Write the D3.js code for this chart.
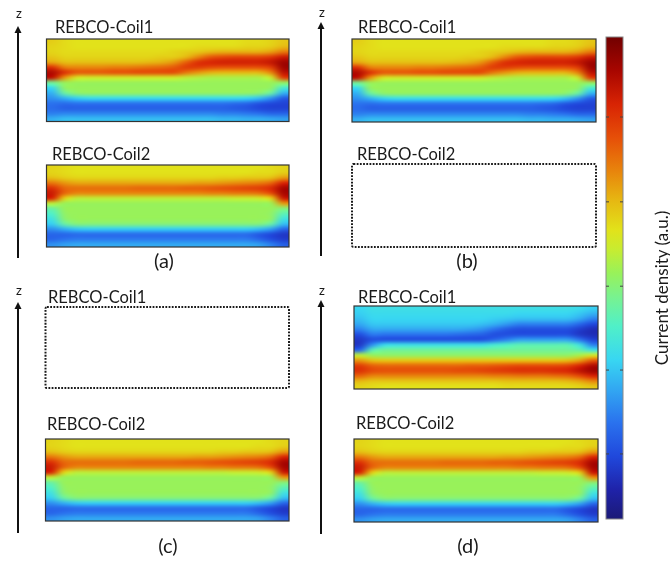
<!DOCTYPE html>
<html>
<head>
<meta charset="utf-8">
<script src="https://cdn.jsdelivr.net/npm/d3@7"></script>
<style>
  html, body { margin: 0; padding: 0; background: #fff; }
  #fig { position: relative; width: 670px; height: 562px; }
  #fig canvas, #fig svg { position: absolute; left: 0; top: 0; }
  text { font-family: Lato, "Open Sans", sans-serif; fill: #1a1a1a; }
</style>
</head>
<body>
<div id="fig"></div>
<script>
// Rainbow colour map (normalised current density 0..1, bottom to top of the bar)
const cmapStops  = [0.00, 0.06, 0.13, 0.20, 0.27, 0.33, 0.40, 0.46, 0.51, 0.56, 0.60, 0.66, 0.72, 0.79, 0.86, 0.93, 1.00];
const cmapColors = ["#1b1a77", "#1f22a8", "#2048dc", "#2a72ee", "#32a8f2", "#38d6f2", "#50f0c8", "#78f290",
                    "#98f25a", "#c8ec30", "#e2e21a", "#e6b812", "#e8860c", "#e65008", "#d82404", "#a80600", "#720000"];
const colorbarTicks = [0.135, 0.309, 0.483, 0.658, 0.834];

const coilNames   = ["REBCO-Coil1", "REBCO-Coil2"];
const panelLabels = ["(a)", "(b)", "(c)", "(d)"];

// Current density in the coil cross-section, rows top -> bottom (z), columns left -> right (r)
const coil1Field = [
  [0.63,0.61,0.60,0.60,0.60,0.60,0.60,0.60,0.60,0.60,0.60,0.60,0.60,0.60,0.60,0.60,0.61,0.61,0.62,0.64],
  [0.62,0.61,0.60,0.60,0.60,0.60,0.60,0.60,0.60,0.60,0.60,0.60,0.61,0.61,0.61,0.61,0.62,0.62,0.63,0.66],
  [0.62,0.61,0.61,0.61,0.61,0.61,0.61,0.61,0.61,0.61,0.62,0.63,0.64,0.66,0.67,0.67,0.67,0.67,0.69,0.74],
  [0.64,0.62,0.62,0.62,0.62,0.62,0.62,0.62,0.62,0.63,0.63,0.66,0.72,0.78,0.80,0.81,0.81,0.81,0.83,0.88],
  [0.68,0.65,0.65,0.65,0.65,0.65,0.65,0.65,0.66,0.67,0.70,0.77,0.84,0.86,0.87,0.87,0.87,0.87,0.89,0.94],
  [0.84,0.73,0.72,0.72,0.72,0.73,0.73,0.74,0.75,0.76,0.78,0.82,0.82,0.80,0.79,0.79,0.79,0.79,0.82,0.94],
  [0.92,0.84,0.78,0.78,0.78,0.79,0.79,0.80,0.80,0.80,0.80,0.74,0.70,0.67,0.66,0.66,0.66,0.66,0.72,0.90],
  [0.90,0.70,0.58,0.57,0.57,0.57,0.57,0.57,0.57,0.57,0.57,0.55,0.54,0.53,0.53,0.53,0.53,0.53,0.56,0.82],
  [0.45,0.51,0.51,0.51,0.51,0.51,0.51,0.51,0.51,0.51,0.51,0.51,0.51,0.51,0.51,0.51,0.51,0.51,0.51,0.50],
  [0.33,0.50,0.51,0.51,0.51,0.51,0.51,0.51,0.51,0.51,0.51,0.51,0.51,0.51,0.51,0.51,0.51,0.51,0.50,0.38],
  [0.28,0.44,0.49,0.50,0.50,0.50,0.50,0.50,0.50,0.50,0.50,0.50,0.50,0.50,0.50,0.50,0.50,0.49,0.44,0.28],
  [0.24,0.28,0.32,0.34,0.34,0.34,0.34,0.34,0.34,0.34,0.34,0.34,0.34,0.34,0.34,0.34,0.33,0.30,0.24,0.16],
  [0.20,0.19,0.20,0.20,0.20,0.20,0.20,0.20,0.20,0.20,0.20,0.20,0.20,0.20,0.20,0.19,0.18,0.15,0.13,0.12],
  [0.19,0.17,0.17,0.17,0.17,0.17,0.17,0.17,0.17,0.17,0.17,0.17,0.17,0.17,0.17,0.16,0.15,0.13,0.12,0.12],
  [0.22,0.23,0.23,0.23,0.23,0.23,0.23,0.23,0.23,0.23,0.23,0.23,0.23,0.23,0.22,0.22,0.21,0.20,0.18,0.18],
  [0.28,0.30,0.30,0.30,0.30,0.30,0.30,0.30,0.30,0.30,0.30,0.30,0.30,0.30,0.29,0.29,0.28,0.28,0.27,0.26]
];

const coil2Field = [
  [0.62,0.61,0.60,0.60,0.60,0.60,0.60,0.60,0.60,0.60,0.60,0.60,0.60,0.60,0.60,0.60,0.60,0.60,0.61,0.62],
  [0.62,0.61,0.60,0.60,0.60,0.60,0.60,0.60,0.60,0.60,0.60,0.60,0.60,0.60,0.60,0.60,0.60,0.61,0.61,0.63],
  [0.65,0.63,0.62,0.62,0.62,0.62,0.62,0.62,0.62,0.62,0.62,0.62,0.62,0.62,0.63,0.63,0.64,0.64,0.65,0.70],
  [0.74,0.70,0.68,0.68,0.68,0.68,0.68,0.68,0.68,0.68,0.68,0.68,0.69,0.69,0.70,0.71,0.72,0.73,0.76,0.86],
  [0.84,0.76,0.75,0.75,0.75,0.75,0.75,0.76,0.76,0.76,0.76,0.77,0.77,0.78,0.79,0.80,0.81,0.82,0.85,0.93],
  [0.88,0.76,0.72,0.72,0.72,0.72,0.72,0.72,0.72,0.72,0.72,0.72,0.72,0.73,0.73,0.74,0.74,0.75,0.80,0.93],
  [0.86,0.62,0.55,0.55,0.55,0.55,0.55,0.55,0.55,0.55,0.55,0.55,0.55,0.55,0.55,0.56,0.56,0.57,0.62,0.88],
  [0.55,0.51,0.51,0.51,0.51,0.51,0.51,0.51,0.51,0.51,0.51,0.51,0.51,0.51,0.51,0.51,0.51,0.51,0.51,0.70],
  [0.44,0.51,0.51,0.51,0.51,0.51,0.51,0.51,0.51,0.51,0.51,0.51,0.51,0.51,0.51,0.51,0.51,0.51,0.51,0.48],
  [0.40,0.50,0.51,0.51,0.51,0.51,0.51,0.51,0.51,0.51,0.51,0.51,0.51,0.51,0.51,0.51,0.51,0.51,0.50,0.42],
  [0.36,0.49,0.51,0.51,0.51,0.51,0.51,0.51,0.51,0.51,0.51,0.51,0.51,0.51,0.51,0.51,0.51,0.51,0.50,0.36],
  [0.32,0.44,0.48,0.48,0.48,0.48,0.48,0.48,0.48,0.48,0.48,0.48,0.48,0.48,0.48,0.48,0.48,0.48,0.44,0.30],
  [0.24,0.28,0.31,0.32,0.32,0.32,0.32,0.32,0.32,0.32,0.32,0.32,0.32,0.32,0.32,0.32,0.32,0.30,0.26,0.18],
  [0.18,0.18,0.19,0.19,0.19,0.19,0.19,0.19,0.19,0.19,0.19,0.19,0.19,0.19,0.19,0.19,0.19,0.16,0.13,0.10],
  [0.18,0.20,0.21,0.21,0.21,0.21,0.21,0.21,0.21,0.21,0.21,0.21,0.21,0.21,0.21,0.21,0.21,0.18,0.14,0.11],
  [0.24,0.26,0.27,0.27,0.27,0.27,0.27,0.27,0.27,0.27,0.27,0.27,0.27,0.27,0.27,0.27,0.27,0.26,0.22,0.17]
];

// Coil 1 when it is driven in the opposite sense
const coil1ReverseField = [
  [0.33,0.35,0.35,0.35,0.35,0.35,0.35,0.35,0.35,0.35,0.35,0.35,0.35,0.35,0.35,0.35,0.35,0.35,0.34,0.32],
  [0.32,0.34,0.34,0.34,0.34,0.34,0.34,0.34,0.34,0.34,0.34,0.34,0.34,0.33,0.33,0.33,0.33,0.33,0.31,0.28],
  [0.30,0.33,0.33,0.33,0.33,0.33,0.33,0.33,0.33,0.33,0.33,0.32,0.31,0.30,0.30,0.30,0.30,0.30,0.27,0.22],
  [0.27,0.31,0.31,0.31,0.31,0.31,0.31,0.31,0.31,0.31,0.30,0.28,0.25,0.22,0.22,0.22,0.22,0.22,0.18,0.13],
  [0.22,0.27,0.27,0.27,0.27,0.27,0.27,0.27,0.27,0.26,0.24,0.20,0.16,0.14,0.14,0.14,0.14,0.14,0.11,0.08],
  [0.14,0.21,0.20,0.20,0.20,0.20,0.20,0.20,0.19,0.18,0.17,0.14,0.14,0.14,0.14,0.14,0.14,0.14,0.10,0.08],
  [0.10,0.14,0.14,0.14,0.14,0.14,0.14,0.14,0.14,0.14,0.14,0.18,0.22,0.26,0.26,0.26,0.26,0.26,0.20,0.12],
  [0.10,0.24,0.34,0.35,0.35,0.35,0.35,0.35,0.35,0.35,0.35,0.38,0.40,0.42,0.42,0.42,0.42,0.42,0.36,0.22],
  [0.18,0.42,0.45,0.45,0.45,0.45,0.45,0.45,0.45,0.45,0.45,0.45,0.45,0.45,0.45,0.45,0.45,0.45,0.43,0.36],
  [0.55,0.51,0.50,0.50,0.50,0.50,0.50,0.50,0.50,0.50,0.50,0.50,0.50,0.50,0.50,0.50,0.50,0.50,0.53,0.58],
  [0.70,0.65,0.64,0.64,0.64,0.64,0.64,0.64,0.64,0.64,0.64,0.64,0.64,0.64,0.64,0.64,0.64,0.65,0.69,0.78],
  [0.82,0.77,0.76,0.76,0.76,0.76,0.76,0.76,0.76,0.77,0.77,0.78,0.79,0.80,0.80,0.80,0.80,0.81,0.86,0.92],
  [0.84,0.80,0.79,0.79,0.79,0.79,0.79,0.79,0.80,0.80,0.81,0.82,0.83,0.84,0.84,0.84,0.85,0.86,0.90,0.94],
  [0.76,0.72,0.72,0.72,0.72,0.72,0.72,0.72,0.72,0.72,0.72,0.73,0.73,0.74,0.74,0.74,0.75,0.76,0.80,0.86],
  [0.66,0.64,0.64,0.64,0.64,0.64,0.64,0.64,0.64,0.64,0.64,0.64,0.65,0.65,0.65,0.65,0.65,0.66,0.68,0.72],
  [0.62,0.61,0.60,0.60,0.60,0.60,0.60,0.60,0.60,0.60,0.60,0.60,0.61,0.61,0.61,0.61,0.61,0.61,0.62,0.64]
];

// Field shown in coil 1 / coil 2 of each panel; null = coil not carrying current (dotted outline)
const panelCoil1 = [coil1Field, coil1Field, null, coil1ReverseField];
const panelCoil2 = [coil2Field, null, coil2Field, coil2Field];

// ---------- layout ----------
const W = 670, H = 562;
const layout = [
  { ax: 18,  tip: 26,  base: 258, zy: 18,  x0: 46.5, x1: 289, c1: [39, 121.5], c2: [165, 247], l1: [55, 33],  l2: [52, 160], tag: [164, 268] },
  { ax: 321, tip: 22,  base: 256, zy: 17,  x0: 352,  x1: 596, c1: [39, 122],   c2: [164, 247], l1: [358, 33], l2: [357, 160], tag: [467, 268] },
  { ax: 18,  tip: 302, base: 533, zy: 295, x0: 45.5, x1: 289, c1: [307, 388],  c2: [439, 521], l1: [48, 303], l2: [47, 430], tag: [168, 553] },
  { ax: 321, tip: 300, base: 534, zy: 295, x0: 354,  x1: 598, c1: [306, 389],  c2: [439, 522], l1: [358, 303], l2: [356, 429], tag: [468, 553] }
];
const bar = { x: 606, w: 17, top: 37, bottom: 519, labelX: 661, labelY: 288 };

const color = d3.scaleLinear().domain(cmapStops).range(cmapColors).interpolate(d3.interpolateRgb).clamp(true);

const fig = d3.select("#fig");
const canvas = fig.append("canvas").attr("width", W).attr("height", H).node();
const ctx = canvas.getContext("2d");
const svg = fig.append("svg").attr("width", W).attr("height", H);
const defs = svg.append("defs");

// Paint one coil field: one texel per cell, smoothly scaled into the coil box
function paintField(field, x0, x1, y0, y1) {
  const rows = field.length, cols = field[0].length;
  const xs = d3.scaleLinear().domain([0, cols]).range([x0, x1]);
  const ys = d3.scaleLinear().domain([0, rows]).range([y0, y1]);
  const src = document.createElement("canvas");
  src.width = cols + 2; src.height = rows + 2;
  const sctx = src.getContext("2d");
  const img = sctx.createImageData(cols + 2, rows + 2);
  for (let r = -1; r <= rows; r++) {
    for (let c = -1; c <= cols; c++) {
      const v = field[Math.max(0, Math.min(rows - 1, r))][Math.max(0, Math.min(cols - 1, c))];
      const rgb = d3.rgb(color(v));
      const i = ((r + 1) * (cols + 2) + (c + 1)) * 4;
      img.data[i] = rgb.r; img.data[i + 1] = rgb.g; img.data[i + 2] = rgb.b; img.data[i + 3] = 255;
    }
  }
  sctx.putImageData(img, 0, 0);
  ctx.save();
  ctx.beginPath();
  ctx.rect(xs(0), ys(0), xs(cols) - xs(0), ys(rows) - ys(0));
  ctx.clip();
  ctx.imageSmoothingEnabled = true;
  ctx.imageSmoothingQuality = "high";
  ctx.drawImage(src, 1, 1, cols, rows, xs(0), ys(0), xs(cols) - xs(0), ys(rows) - ys(0));
  ctx.restore();
}

layout.forEach((p, i) => {
  const g = svg.append("g");
  // z axis with filled arrow head
  g.append("line").attr("x1", p.ax).attr("x2", p.ax).attr("y1", p.base).attr("y2", p.tip + 5)
    .attr("stroke", "#111").attr("stroke-width", 2);
  g.append("path").attr("d", `M${p.ax - 3.5},${p.tip + 7}L${p.ax},${p.tip}L${p.ax + 3.5},${p.tip + 7}Z`).attr("fill", "#111");
  g.append("text").attr("x", p.ax + 1).attr("y", p.zy).attr("text-anchor", "middle").attr("font-size", 13).text("z");

  [[panelCoil1[i], p.c1, p.l1, coilNames[0]], [panelCoil2[i], p.c2, p.l2, coilNames[1]]].forEach(([field, yy, lab, name]) => {
    if (field) {
      paintField(field, p.x0, p.x1, yy[0], yy[1]);
      g.append("rect").attr("x", p.x0).attr("y", yy[0]).attr("width", p.x1 - p.x0).attr("height", yy[1] - yy[0])
        .attr("fill", "none").attr("stroke", "#333").attr("stroke-width", 1.2);
    } else {
      g.append("rect").attr("x", p.x0).attr("y", yy[0]).attr("width", p.x1 - p.x0).attr("height", yy[1] - yy[0])
        .attr("rx", 1.5).attr("fill", "none").attr("stroke", "#1a1a1a").attr("stroke-width", 2)
        .attr("stroke-dasharray", "1.8 1.4");
    }
    g.append("text").attr("x", lab[0]).attr("y", lab[1]).attr("font-size", 16.5).text(name);
  });

  g.append("text").attr("x", p.tag[0]).attr("y", p.tag[1]).attr("text-anchor", "middle").attr("font-size", 20).text(panelLabels[i]);
});

// colour bar
const grad = defs.append("linearGradient").attr("id", "cbar")
  .attr("x1", 0).attr("y1", 1).attr("x2", 0).attr("y2", 0);
grad.selectAll("stop").data(cmapStops).join("stop")
  .attr("offset", d => d).attr("stop-color", (d, i) => cmapColors[i]);

const vScale = d3.scaleLinear().domain([0, 1]).range([bar.bottom, bar.top]);
svg.append("rect").attr("x", bar.x).attr("y", vScale(1)).attr("width", bar.w).attr("height", vScale(0) - vScale(1))
  .attr("fill", "url(#cbar)").attr("stroke", "#888").attr("stroke-width", 1);
const tk = svg.append("g");
tk.selectAll("line.l").data(colorbarTicks).join("line").attr("class", "l")
  .attr("x1", bar.x).attr("x2", bar.x + 3).attr("y1", d => vScale(d)).attr("y2", d => vScale(d))
  .attr("stroke", "#444").attr("stroke-width", 1);
tk.selectAll("line.r").data(colorbarTicks).join("line").attr("class", "r")
  .attr("x1", bar.x + bar.w - 3).attr("x2", bar.x + bar.w).attr("y1", d => vScale(d)).attr("y2", d => vScale(d))
  .attr("stroke", "#444").attr("stroke-width", 1);

svg.append("text").attr("transform", `translate(${bar.labelX},${bar.labelY}) rotate(-90)`)
  .attr("text-anchor", "middle").attr("dominant-baseline", "central").attr("font-size", 17)
  .text("Current density (a.u.)");
</script>
</body>
</html>
